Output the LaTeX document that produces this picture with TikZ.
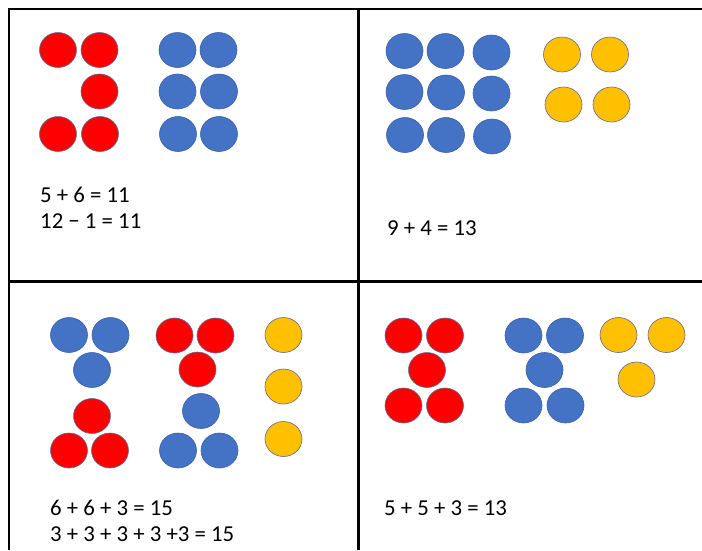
\documentclass[tikz,border=0pt]{standalone}
\usepackage{fontspec}
\setmainfont{Carlito}
\usetikzlibrary{shapes.geometric}
\definecolor{cred}{HTML}{FF0000}
\definecolor{cblue}{HTML}{4472C4}
\definecolor{cyel}{HTML}{FFC000}
\definecolor{cedge}{HTML}{5A6E99}
\tikzset{
  dot/.style={ellipse,minimum width=37pt,minimum height=35pt,inner sep=0pt,draw=cedge,line width=0.6pt},
  rd/.style={dot,fill=cred},
  bd/.style={dot,fill=cblue,draw=cblue!85!black},
  yd/.style={dot,fill=cyel,draw=gray!80!blue},
  eq/.style={anchor=base west,inner sep=0pt,font=\fontsize{22.8}{26}\selectfont},
  grid/.style={line width=2.2pt,black}
}
\begin{document}
\begin{tikzpicture}[x=1pt,y=-1pt]
\useasboundingbox (0,0) rectangle (702,550);
% grid lines
\coordinate (tl) at (9,9);
\coordinate (tr) at (702,9);
\coordinate (bl) at (9,550);
\coordinate (mt) at (358.5,9);
\coordinate (mb) at (358.5,550);
\coordinate (hl) at (9,281.5);
\coordinate (hr) at (702,281.5);
\draw[grid] (bl) -- (tl) -- (tr);
\draw[grid] (mt) -- (mb);
\draw[grid] (hl) -- (hr);

% Panel 1
\node[rd] (a1) at (58,50) {};
\node[rd] (a2) at (99.5,50) {};
\node[rd] (a3) at (99.5,91.5) {};
\node[rd] (a4) at (58,134) {};
\node[rd] (a5) at (100,134) {};
\node[bd] (a6) at (177.5,50) {};
\node[bd] (a7) at (218.5,50) {};
\node[bd] (a8) at (177.5,91.5) {};
\node[bd] (a9) at (219,91.5) {};
\node[bd] (a10) at (178,134) {};
\node[bd] (a11) at (219,134) {};
\node[eq] (ta1) at (40,202) {5 + 6 = 11};
\node[eq] (ta2) at (40,228) {12 − 1 = 11};

% Panel 2
\node[bd] (b1) at (404.5,51) {};
\node[bd] (b2) at (445.5,51) {};
\node[bd] (b3) at (491.5,52.5) {};
\node[bd] (b4) at (404.5,92) {};
\node[bd] (b5) at (446,92.5) {};
\node[bd] (b6) at (491.5,93.5) {};
\node[bd] (b7) at (405,135) {};
\node[bd] (b8) at (446,135) {};
\node[bd] (b9) at (492,136.5) {};
\node[yd] (b10) at (562,54.5) {};
\node[yd] (b11) at (610,54.5) {};
\node[yd] (b12) at (563.5,104.5) {};
\node[yd] (b13) at (611.5,104.5) {};
\node[eq] (tb1) at (387,235) {9 + 4 = 13};

% Panel 3
\node[bd] (c1) at (69,335) {};
\node[bd] (c2) at (110.5,335) {};
\node[bd] (c3) at (92,370) {};
\node[rd] (c4) at (92,416) {};
\node[rd] (c5) at (69,450.5) {};
\node[rd] (c6) at (110,450.5) {};
\node[rd] (c7) at (174.5,335.5) {};
\node[rd] (c8) at (215.5,335.5) {};
\node[rd] (c9) at (197.5,369.5) {};
\node[bd] (c10) at (201,411) {};
\node[bd] (c11) at (178,450.5) {};
\node[bd] (c12) at (219.5,450.5) {};
\node[yd] (c13) at (283.5,335) {};
\node[yd] (c14) at (283.5,386.5) {};
\node[yd] (c15) at (283.5,439) {};
\node[eq] (tc1) at (50,515) {6 + 6 + 3 = 15};
\node[eq] (tc2) at (50,541) {3 + 3 + 3 + 3 +3 = 15};

% Panel 4
\node[rd] (d1) at (403.5,335.5) {};
\node[rd] (d2) at (445,335.5) {};
\node[rd] (d3) at (427,370) {};
\node[rd] (d4) at (403.5,405.5) {};
\node[rd] (d5) at (445,405.5) {};
\node[bd] (d6) at (523.5,335.5) {};
\node[bd] (d7) at (565,335.5) {};
\node[bd] (d8) at (544.5,370) {};
\node[bd] (d9) at (523.5,405.5) {};
\node[bd] (d10) at (565.5,405.5) {};
\node[yd] (d11) at (618.5,335) {};
\node[yd] (d12) at (666.5,335) {};
\node[yd] (d13) at (636.5,379.5) {};
\node[eq] (td1) at (384,515) {5 + 5 + 3 = 13};
\end{tikzpicture}
\end{document}
